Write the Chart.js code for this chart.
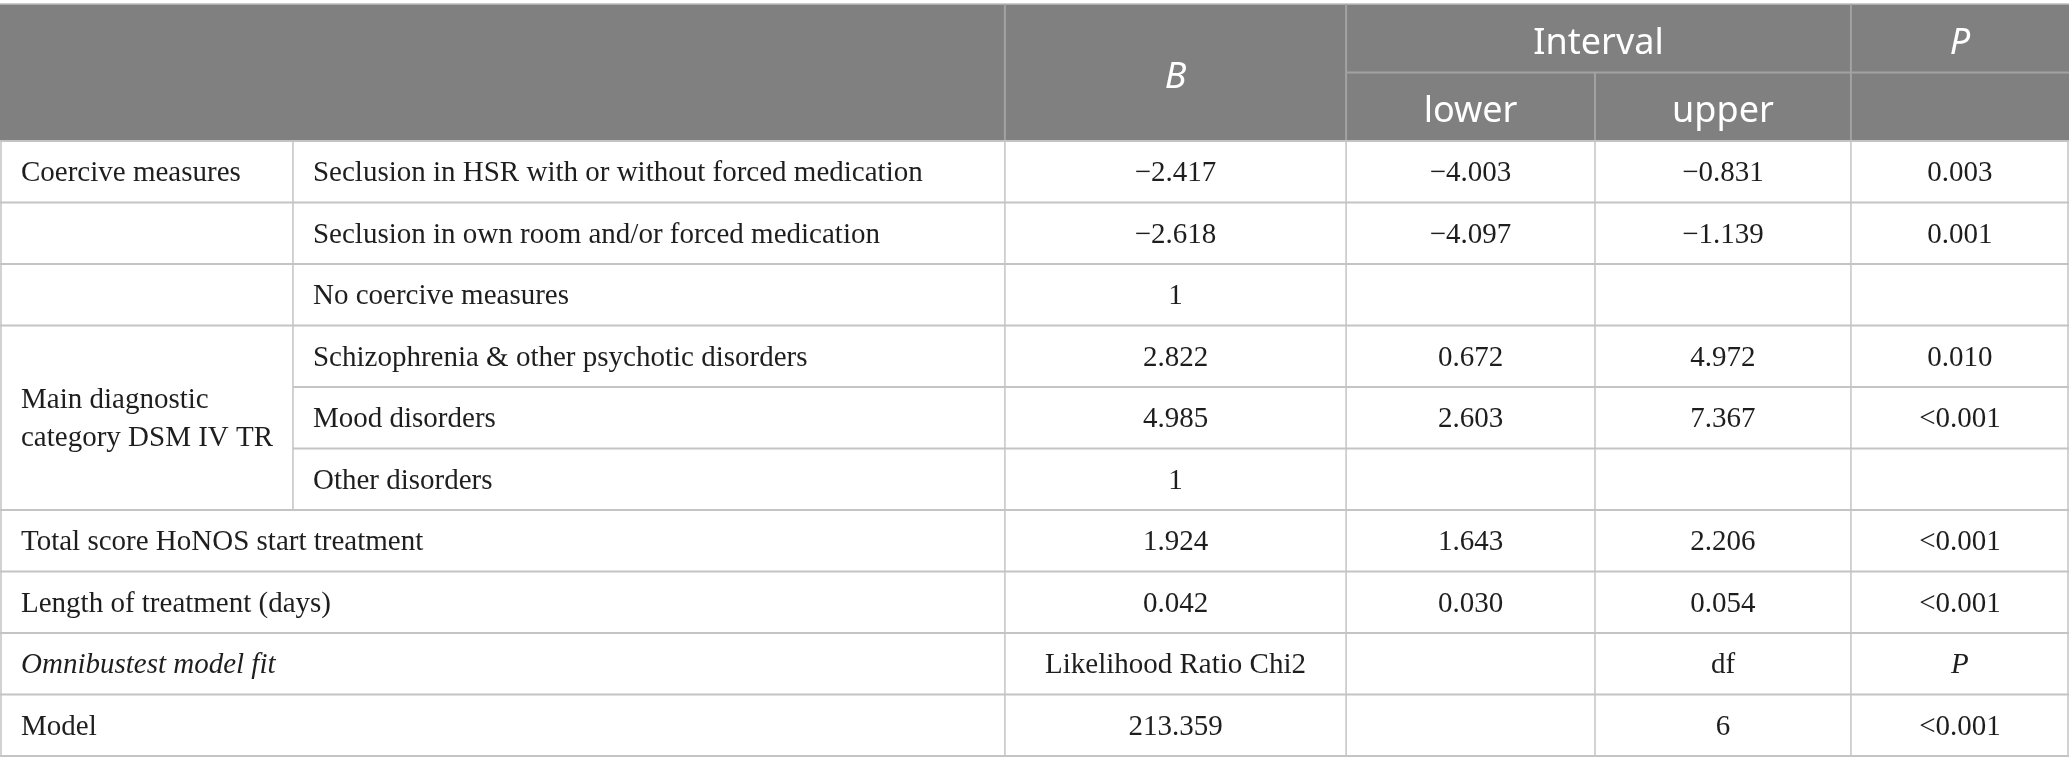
<!DOCTYPE html>
<html><head><meta charset="utf-8">
<script src="https://cdn.jsdelivr.net/npm/chart.js@4"></script>
<style>html,body{margin:0;padding:0;background:#fff;overflow:hidden}canvas{display:block}</style>
</head><body><canvas id="c" width="2069" height="775"></canvas>
<script>
// ---- data ----
// null = label spans the first two columns; '' = empty group cell
const groupLabels = ['Coercive measures', '', '', 'Main diagnostic|category DSM IV TR', '', '', null, null, null, null];
const categories = ['Seclusion in HSR with or without forced medication', 'Seclusion in own room and/or forced medication', 'No coercive measures', 'Schizophrenia & other psychotic disorders', 'Mood disorders', 'Other disorders', 'Total score HoNOS start treatment', 'Length of treatment (days)', 'Omnibustest model fit', 'Model'];
const bValues = ['\u22122.417', '\u22122.618', '1', '2.822', '4.985', '1', '1.924', '0.042', 'Likelihood Ratio Chi2', '213.359'];
const lowerValues = ['\u22124.003', '\u22124.097', '', '0.672', '2.603', '', '1.643', '0.030', '', ''];
const upperValues = ['\u22120.831', '\u22121.139', '', '4.972', '7.367', '', '2.206', '0.054', 'df', '6'];
const pValues = ['0.003', '0.001', '', '0.010', '<0.001', '', '<0.001', '<0.001', 'P', '<0.001'];
const headerTop = ['', 'B', 'Interval', 'P'];
const headerSub = ['lower', 'upper'];
const italicCells = {'8-0': true, '8-5': true};

// ---- layout / style ----
const colEdges = [0, 0.1416, 0.4857, 0.6506, 0.7709, 0.8946, 1];
const serif = '"Liberation Serif", "DejaVu Serif", serif';
const sans = '"Noto Sans", "Open Sans", sans-serif';
const headerBg = '#808080';
const lineColor = '#c4c4c4';
const headLine = '#a2a2a2';
const textColor = '#1e1e1e';
const bodyFont = 29;

const tablePlugin = {
  id: 'table',
  afterDraw(chart) {
    const ctx = chart.ctx;
    const xs = chart.scales.x, ys = chart.scales.y;
    const n = categories.length;
    const X = i => xs.getPixelForValue(colEdges[i]);
    const rowH = (ys.bottom - ys.top) / n;
    const rowTop = i => ys.getPixelForValue(i) - rowH / 2;
    const rowMid = i => ys.getPixelForValue(i) + 2;
    const hTop = 4, hBot = ys.top, hMid = (hTop + hBot) / 2;
    const W = X(6);
    ctx.save();
    // header background
    ctx.fillStyle = headerBg;
    ctx.fillRect(X(0), hTop, W - X(0), hBot - hTop);
    ctx.strokeStyle = '#bdbdbd'; ctx.lineWidth = 1.5;
    ctx.beginPath(); ctx.moveTo(X(0), hTop); ctx.lineTo(W, hTop); ctx.stroke();
    // header lines
    ctx.strokeStyle = headLine; ctx.lineWidth = 2;
    ctx.beginPath();
    [2, 3, 5].forEach(c => { ctx.moveTo(X(c), hTop); ctx.lineTo(X(c), hBot); });
    ctx.moveTo(X(4), hMid); ctx.lineTo(X(4), hBot);
    ctx.moveTo(X(3), hMid); ctx.lineTo(W, hMid);
    ctx.stroke();
    // header text
    const hOff = 5;
    ctx.fillStyle = '#ffffff'; ctx.textAlign = 'center'; ctx.textBaseline = 'middle';
    ctx.font = 'italic 36px ' + sans;
    ctx.fillText(headerTop[1], (X(2) + X(3)) / 2, (hTop + hBot) / 2 + hOff);
    ctx.fillText(headerTop[3], (X(5) + X(6)) / 2, (hTop + hMid) / 2 + hOff);
    ctx.font = '36px ' + sans;
    ctx.fillText(headerTop[2], (X(3) + X(5)) / 2, (hTop + hMid) / 2 + hOff);
    ctx.fillText(headerSub[0], (X(3) + X(4)) / 2, (hMid + hBot) / 2 + hOff);
    ctx.fillText(headerSub[1], (X(4) + X(5)) / 2, (hMid + hBot) / 2 + hOff);
    // body lines
    ctx.strokeStyle = lineColor; ctx.lineWidth = 2;
    ctx.beginPath();
    for (let i = 0; i <= n; i++) {
      const y = i < n ? rowTop(i) : ys.bottom;
      const inMerged = (i === 4 || i === 5);
      ctx.moveTo(inMerged ? X(1) : X(0), y); ctx.lineTo(W, y);
    }
    ctx.stroke();
    ctx.lineWidth = 1.5;
    ctx.beginPath();
    ctx.moveTo(X(0) + 1, ys.top); ctx.lineTo(X(0) + 1, ys.bottom);
    ctx.moveTo(W - 1, ys.top); ctx.lineTo(W - 1, ys.bottom);
    ctx.moveTo(X(1), ys.top); ctx.lineTo(X(1), rowTop(6));
    [2, 3, 4, 5].forEach(c => { ctx.moveTo(X(c), ys.top); ctx.lineTo(X(c), ys.bottom); });
    ctx.stroke();
    // body text
    ctx.fillStyle = textColor; ctx.textBaseline = 'middle';
    const setFont = it => { ctx.font = (it ? 'italic ' : '') + bodyFont + 'px ' + serif; };
    for (let i = 0; i < n; i++) {
      const yMid = rowMid(i);
      ctx.textAlign = 'left';
      if (groupLabels[i] === null) {
        setFont(italicCells[i + '-0']);
        ctx.fillText(categories[i], X(0) + 21, yMid);
      } else {
        setFont(false);
        if (groupLabels[i]) {
          const lines = groupLabels[i].split('|');
          if (lines.length > 1) {
            const cy = (rowTop(i) + rowTop(i + 3)) / 2 + 2;
            lines.forEach((l, k) => ctx.fillText(l, X(0) + 21, cy + (k - (lines.length - 1) / 2) * 38));
          } else {
            ctx.fillText(lines[0], X(0) + 21, yMid);
          }
        }
        setFont(italicCells[i + '-1']);
        ctx.fillText(categories[i], X(1) + 20, yMid);
      }
      ctx.textAlign = 'center';
      [bValues, lowerValues, upperValues, pValues].forEach((arr, k) => {
        setFont(italicCells[i + '-' + (k + 2)]);
        ctx.fillText(arr[i], (X(k + 2) + X(k + 3)) / 2, yMid);
      });
    }
    ctx.restore();
  }
};

new Chart(document.getElementById('c'), {
  type: 'bar',
  data: { labels: categories, datasets: [{ data: [] }] },
  options: {
    indexAxis: 'y',
    responsive: false,
    animation: false,
    devicePixelRatio: 1,
    layout: { padding: { top: 141, bottom: 19, left: 0, right: 0 } },
    plugins: { legend: { display: false }, tooltip: { enabled: false } },
    scales: {
      x: { type: 'linear', min: 0, max: 1, display: false },
      y: { type: 'category', display: false, offset: true }
    }
  },
  plugins: [tablePlugin]
});
</script></body></html>
